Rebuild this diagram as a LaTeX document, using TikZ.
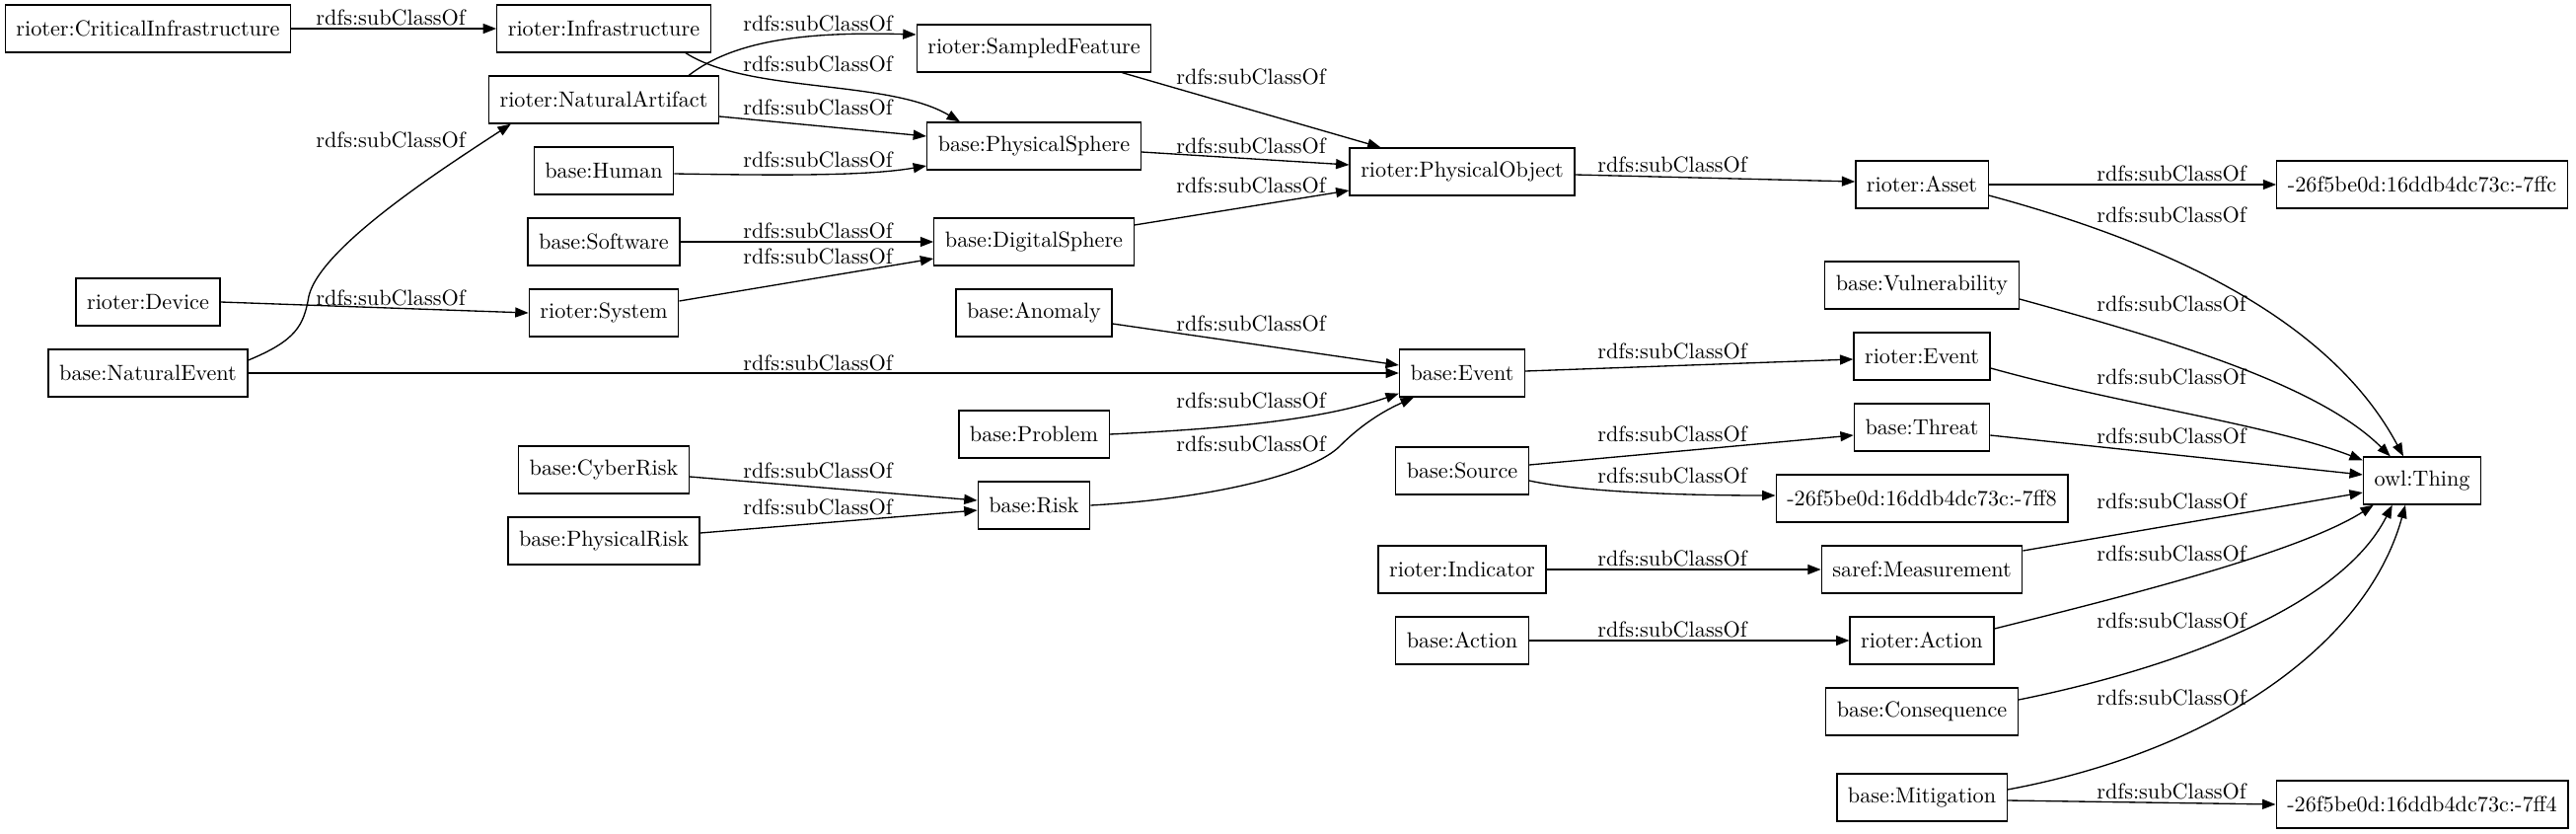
\documentclass[tikz,border=0pt]{standalone}
\usetikzlibrary{arrows.meta,calc}

\begin{document}
\begin{tikzpicture}[
  x=0.45pt, y=-0.45pt,
  cls/.style={draw, line width=0.6pt, minimum height=21.6pt, inner xsep=5pt, inner ysep=0pt},
  sub/.style={-{Triangle[length=6pt, width=4.5pt]}, line width=0.6pt},
  lbl/.style={inner sep=0pt}
]
\useasboundingbox (0,0) rectangle (2611,844);

% column 1
\node[cls] (crit) at (150, 29) {rioter:CriticalInfrastructure};
\node[cls] (device) at (150, 306) {rioter:Device};
\node[cls] (natevent) at (150, 378) {base:NaturalEvent};

% column 2
\node[cls] (infra) at (612, 29) {rioter:Infrastructure};
\node[cls] (natart) at (612, 101) {rioter:NaturalArtifact};
\node[cls] (human) at (612, 173) {base:Human};
\node[cls] (software) at (612, 245) {base:Software};
\node[cls] (system) at (612, 317) {rioter:System};
\node[cls] (cyberrisk) at (612, 476) {base:CyberRisk};
\node[cls] (physrisk) at (612, 548) {base:PhysicalRisk};

% column 3
\node[cls] (sampled) at (1048, 49) {rioter:SampledFeature};
\node[cls] (physsphere) at (1048, 148) {base:PhysicalSphere};
\node[cls] (digsphere) at (1048, 245) {base:DigitalSphere};
\node[cls] (anomaly) at (1048, 317) {base:Anomaly};
\node[cls] (problem) at (1048, 440) {base:Problem};
\node[cls] (risk) at (1048, 512) {base:Risk};

% column 4
\node[cls] (physobj) at (1482, 174) {rioter:PhysicalObject};
\node[cls] (event) at (1482, 378) {base:Event};
\node[cls] (source) at (1482, 477) {base:Source};
\node[cls] (indicator) at (1482, 577) {rioter:Indicator};
\node[cls] (action) at (1482, 649) {base:Action};

% column 5
\node[cls] (asset) at (1948, 187) {rioter:Asset};
\node[cls] (vuln) at (1948, 289) {base:Vulnerability};
\node[cls] (revent) at (1948, 361) {rioter:Event};
\node[cls] (threat) at (1948, 433) {base:Threat};
\node[cls] (bnff8) at (1948, 505) {-26f5be0d:16ddb4dc73c:-7ff8};
\node[cls] (measure) at (1948, 577) {saref:Measurement};
\node[cls] (raction) at (1948, 649) {rioter:Action};
\node[cls] (conseq) at (1948, 721) {base:Consequence};
\node[cls] (mitig) at (1948, 808) {base:Mitigation};

% column 6
\node[cls] (bnffc) at (2455, 187) {-26f5be0d:16ddb4dc73c:-7ffc};
\node[cls] (owl) at (2455, 487) {owl:Thing};
\node[cls] (bnff4) at (2455, 815) {-26f5be0d:16ddb4dc73c:-7ff4};

% edges 1 -> 2
\draw[sub] (crit.east) -- (infra.west) node[lbl] at (396, 18) {rdfs:subClassOf};
\draw[sub] ($(natevent.east)+(0,-13)$) .. controls (300,345) and (308,330) .. (313,300)
  .. controls (325,250) and (450,170) .. ($(natart.south west)+(23,0)$)
  node[lbl] at (396, 142) {rdfs:subClassOf};
\draw[sub] (device.east) -- (system.west) node[lbl] at (396, 302) {rdfs:subClassOf};

% edges 2 -> 3
\draw[sub] ($(natart.north east)+(-31,0)$) .. controls (745,40) and (820,32) .. ($(sampled.west)+(0,-14)$)
  node[lbl] at (829, 24) {rdfs:subClassOf};
\draw[sub] ($(infra.south east)+(-26,0)$) .. controls (760,95) and (900,80) .. ($(physsphere.north west)+(34,0)$)
  node[lbl] at (829, 65) {rdfs:subClassOf};
\draw[sub] ($(natart.east)+(0,17)$) -- ($(physsphere.west)+(0,-10)$) node[lbl] at (829, 109) {rdfs:subClassOf};
\draw[sub] ($(human.east)+(0,3)$) .. controls (800,178) and (880,178) .. ($(physsphere.west)+(0,20)$)
  node[lbl] at (829, 162) {rdfs:subClassOf};
\draw[sub] (software.east) -- (digsphere.west) node[lbl] at (829, 234) {rdfs:subClassOf};
\draw[sub] ($(system.east)+(0,-12)$) -- ($(digsphere.west)+(0,17)$) node[lbl] at (829, 260) {rdfs:subClassOf};
\draw[sub] (natevent.east) -- (event.west) node[lbl] at (829, 368) {rdfs:subClassOf};
\draw[sub] ($(cyberrisk.east)+(0,7)$) -- ($(risk.west)+(0,-5)$) node[lbl] at (829, 477) {rdfs:subClassOf};
\draw[sub] ($(physrisk.east)+(0,-8)$) -- ($(risk.west)+(0,5)$) node[lbl] at (829, 514) {rdfs:subClassOf};

% edges 3 -> 4
\draw[sub] ($(sampled.south east)+(-30,0)$) -- ($(physobj.north west)+(32,0)$) node[lbl] at (1268, 78) {rdfs:subClassOf};
\draw[sub] ($(physsphere.east)+(0,6)$) -- ($(physobj.west)+(0,-7)$) node[lbl] at (1268, 148) {rdfs:subClassOf};
\draw[sub] ($(digsphere.east)+(0,-17)$) -- ($(physobj.west)+(0,19)$) node[lbl] at (1268, 188) {rdfs:subClassOf};
\draw[sub] ($(anomaly.east)+(0,11)$) -- ($(event.west)+(0,-8)$) node[lbl] at (1268, 328) {rdfs:subClassOf};
\draw[sub] (problem.east) .. controls (1250,434) and (1340,425) .. ($(event.south west)+(0,-4)$)
  node[lbl] at (1268, 406) {rdfs:subClassOf};
\draw[sub] (risk.east) .. controls (1230,505) and (1330,480) .. (1358,452)
  .. controls (1385,425) and (1410,413) .. ($(event.south west)+(15,0)$)
  node[lbl] at (1268, 450) {rdfs:subClassOf};

% edges 4 -> 5
\draw[sub] ($(physobj.east)+(0,3)$) -- ($(asset.west)+(0,-3)$) node[lbl] at (1695, 167) {rdfs:subClassOf};
\draw[sub] ($(event.east)+(0,-2)$) -- ($(revent.west)+(0,3)$) node[lbl] at (1695, 356) {rdfs:subClassOf};
\draw[sub] ($(source.east)+(0,-6)$) -- ($(threat.west)+(0,8)$) node[lbl] at (1695, 440) {rdfs:subClassOf};
\draw[sub] ($(source.east)+(0,10)$) .. controls (1600,498) and (1700,502) .. ($(bnff8.west)+(0,-3)$)
  node[lbl] at (1695, 482) {rdfs:subClassOf};
\draw[sub] (indicator.east) -- (measure.west) node[lbl] at (1695, 566) {rdfs:subClassOf};
\draw[sub] (action.east) -- (raction.west) node[lbl] at (1695, 638) {rdfs:subClassOf};

% edges 5 -> 6
\draw[sub] (asset.east) -- (bnffc.west) node[lbl] at (2201, 176) {rdfs:subClassOf};
\draw[sub] ($(asset.east)+(0,11)$) .. controls (2190,245) and (2360,320) .. ($(owl.north)+(-19,0)$)
  node[lbl] at (2201, 218) {rdfs:subClassOf};
\draw[sub] ($(vuln.east)+(0,14)$) .. controls (2200,345) and (2350,390) .. ($(owl.north west)+(28,0)$)
  node[lbl] at (2201, 308) {rdfs:subClassOf};
\draw[sub] ($(revent.east)+(0,12)$) .. controls (2150,410) and (2300,430) .. ($(owl.north west)+(0,4)$)
  node[lbl] at (2201, 382) {rdfs:subClassOf};
\draw[sub] ($(threat.east)+(0,8)$) -- ($(owl.west)+(0,-6)$) node[lbl] at (2201, 442) {rdfs:subClassOf};
\draw[sub] ($(measure.east)+(0,-19)$) -- ($(owl.west)+(0,12)$) node[lbl] at (2201, 508) {rdfs:subClassOf};
\draw[sub] ($(raction.east)+(0,-12)$) .. controls (2150,605) and (2330,560) .. ($(owl.south west)+(11,0)$)
  node[lbl] at (2201, 561) {rdfs:subClassOf};
\draw[sub] ($(conseq.east)+(0,-12)$) .. controls (2190,680) and (2370,620) .. ($(owl.south west)+(30,0)$)
  node[lbl] at (2201, 629) {rdfs:subClassOf};
\draw[sub] ($(mitig.east)+(0,-8)$) .. controls (2250,760) and (2400,650) .. ($(owl.south)+(-17,0)$)
  node[lbl] at (2201, 707) {rdfs:subClassOf};
\draw[sub] ($(mitig.east)+(0,3)$) -- (bnff4.west) node[lbl] at (2201, 802) {rdfs:subClassOf};

\end{tikzpicture}
\end{document}
